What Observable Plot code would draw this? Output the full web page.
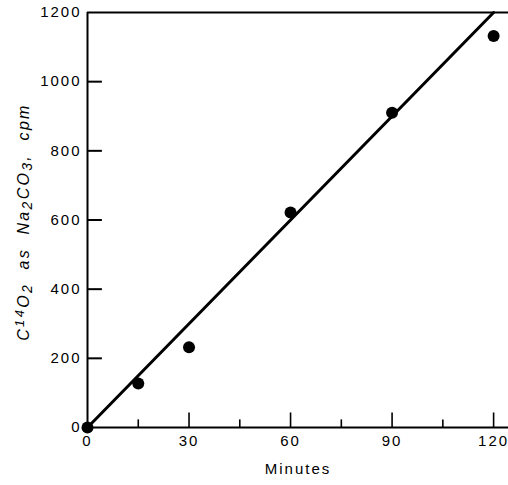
<!DOCTYPE html>
<html><head><meta charset="utf-8">
<script src="https://cdn.jsdelivr.net/npm/d3@7"></script>
<script src="https://cdn.jsdelivr.net/npm/@observablehq/plot@0.6"></script>
<style>
body{margin:0;background:#fff;}
#chart svg{display:block;font-family:"Liberation Sans",Arial,sans-serif;}
</style></head>
<body><div id="chart"></div>
<script>
const minutes = [0, 15, 30, 60, 90, 120];
const cpm = [0, 127, 232, 622, 910, 1132];
const fitMinutes = [0, 120];
const fitSlope = 10;
const xMajorTicks = [0, 30, 60, 90, 120];
const xMinorTicks = [15, 45, 75, 105];
const yTicks = [0, 200, 400, 600, 800, 1000, 1200];
const xLabel = "Minutes";

const points = minutes.map((m, i) => ({m, c: cpm[i]}));
const fit = fitMinutes.map(m => ({m, c: m * fitSlope}));
const innerY = yTicks.filter(v => v > 0 && v < 1200);
const innerXMajor = xMajorTicks.filter(v => v > 0);

const plot = Plot.plot({
  width: 508, height: 485,
  marginLeft: 87, marginRight: 0, marginTop: 12, marginBottom: 58,
  x: {domain: [0, 124.4]},
  y: {domain: [0, 1200]},
  style: {fontSize: "15px", color: "#000"},
  marks: [
    Plot.axisY({ticks: yTicks, tickSize: 0, tickPadding: 6, tickFormat: d => String(d), label: null, fontSize: 15}),
    Plot.axisX({ticks: xMajorTicks, tickSize: 0, tickPadding: 8, tickFormat: d => String(d), label: null, fontSize: 15}),
    Plot.ruleY(innerY, {x1: 0, x2: 4.4, stroke: "#000", strokeWidth: 2}),
    Plot.ruleX(innerXMajor, {y1: 0, y2: 42, stroke: "#000", strokeWidth: 1.6}),
    Plot.ruleX(xMinorTicks, {y1: 0, y2: 22, stroke: "#000", strokeWidth: 1.6}),
    Plot.ruleX([0], {stroke: "#000", strokeWidth: 2}),
    Plot.ruleY([0], {stroke: "#000", strokeWidth: 2}),
    Plot.ruleY([1200], {stroke: "#000", strokeWidth: 2}),
    Plot.line(fit, {x: "m", y: "c", stroke: "#000", strokeWidth: 3}),
    Plot.dot(points, {x: "m", y: "c", r: 6, fill: "#000", stroke: "none"}),
    Plot.text([xLabel], {frameAnchor: "bottom", dy: 46, text: d => d, fontSize: 15, fill: "#000"})
  ]
});
document.getElementById("chart").append(plot);

const svg = d3.select(plot);
svg.selectAll("text").attr("letter-spacing", "2px");
// rotated y-axis label with super/subscripts
const t = svg.append("text")
  .attr("transform", "translate(29,222) rotate(-90)")
  .attr("text-anchor", "middle")
  .attr("font-style", "italic")
  .attr("font-size", 16)
  .attr("letter-spacing", "2.3px")
  .attr("fill", "#000")
  .attr("style", "white-space:pre");
const parts = [
  ["C", 0], ["14", 1], ["O", 0], ["2", -1], ["  as  Na", 0], ["2", -1], ["CO", 0], ["3", -1], [",  cpm", 0]
];
parts.forEach(([s, shift]) => {
  const ts = t.append("tspan").text(s);
  if (shift === 1) ts.attr("baseline-shift", "5").attr("font-size", 13);
  if (shift === -1) ts.attr("baseline-shift", "-3").attr("font-size", 14);
});
</script></body></html>
